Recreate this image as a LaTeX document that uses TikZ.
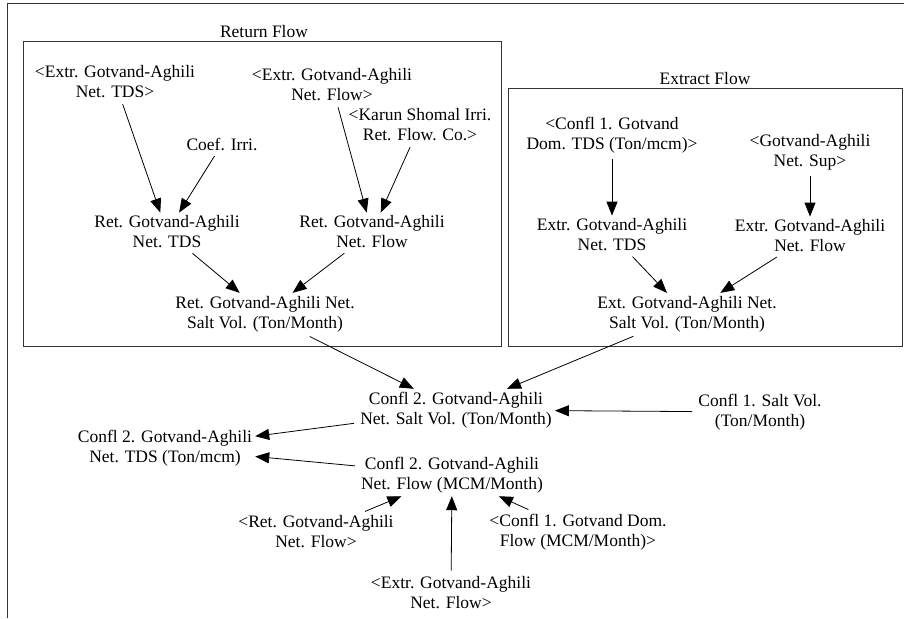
\documentclass[tikz,border=0pt]{standalone}
\usepackage{fontspec}
\setmainfont{Liberation Serif}
\usetikzlibrary{arrows.meta}

\begin{document}
\begin{tikzpicture}[x=1pt,y=-1pt,
    var/.style={align=center,font=\fontsize{17.5}{20}\selectfont,inner sep=3pt},
    link/.style={-{Triangle[length=14pt,width=11pt]},line width=0.8pt,shorten <=3pt},
    frame/.style={draw=black!80,line width=1pt}]
    \useasboundingbox (0,0) rectangle (904,618);
    % outer frame and the two views
    \draw[frame] (904,4) -- (7,4) -- (7,618);
    \draw[frame] (23,42) rectangle (501,346);
    \draw[frame] (508,88) rectangle (902,346);
    \node[var] (RF) at (264,32) {Return Flow};
    \node[var] (EF) at (705,79) {Extract Flow};
    % return flow
    \node[var] (XT) at (115,82) {<Extr. Gotvand-Aghili\\Net. TDS>};
    \node[var] (CI) at (222,144) {Coef. Irri.};
    \node[var] (XF) at (332,85) {<Extr. Gotvand-Aghili\\Net. Flow>};
    \node[var] (KS) at (420,125) {<Karun Shomal Irri.\\Ret. Flow. Co.>};
    \node[var] (RT) at (167,232) {Ret. Gotvand-Aghili\\Net. TDS};
    \node[var] (RN) at (372,232) {Ret. Gotvand-Aghili\\Net. Flow};
    \node[var] (RS) at (265,314) {Ret. Gotvand-Aghili Net.\\Salt Vol. (Ton/Month)};
    % extract flow
    \node[var] (DT) at (612,135) {<Confl 1. Gotvand\\Dom. TDS (Ton/mcm)>};
    \node[var] (NS) at (810,152) {<Gotvand-Aghili\\Net. Sup>};
    \node[var] (ET) at (612,235) {Extr. Gotvand-Aghili\\Net. TDS};
    \node[var] (EN) at (810,236) {Extr. Gotvand-Aghili\\Net. Flow};
    \node[var] (ES) at (687,314) {Ext. Gotvand-Aghili Net.\\Salt Vol. (Ton/Month)};
    % confluence
    \node[var] (CS) at (456,410) {Confl 2. Gotvand-Aghili\\Net. Salt Vol. (Ton/Month)};
    \node[var] (OS) at (760,412) {Confl 1. Salt Vol.\\(Ton/Month)};
    \node[var] (CT) at (165,448) {Confl 2. Gotvand-Aghili\\Net. TDS (Ton/mcm)};
    \node[var] (CF) at (452,475) {Confl 2. Gotvand-Aghili\\Net. Flow (MCM/Month)};
    \node[var] (GR) at (316,532) {<Ret. Gotvand-Aghili\\Net. Flow>};
    \node[var] (GD) at (578,532) {<Confl 1. Gotvand Dom.\\Flow (MCM/Month)>};
    \node[var] (GX) at (451,593) {<Extr. Gotvand-Aghili\\Net. Flow>};
    \draw[link] (XT) -- (RT);
    \draw[link] (CI) -- (RT);
    \draw[link] (XF) -- (RN);
    \draw[link] (KS) -- (RN);
    \draw[link] (RT) -- (RS);
    \draw[link] (RN) -- (RS);
    \draw[link] (DT) -- (ET);
    \draw[link] (NS) -- (EN);
    \draw[link] (ET) -- (ES);
    \draw[link] (EN) -- (ES);
    \draw[link] (RS) -- (CS);
    \draw[link] (ES) -- (CS);
    \draw[link] (OS) -- (CS);
    \draw[link] (CS) -- (CT);
    \draw[link] (CF) -- (CT);
    \draw[link] (GR) -- (CF);
    \draw[link] (GD) -- (CF);
    \draw[link] (GX) -- (CF);
\end{tikzpicture}
\end{document}
